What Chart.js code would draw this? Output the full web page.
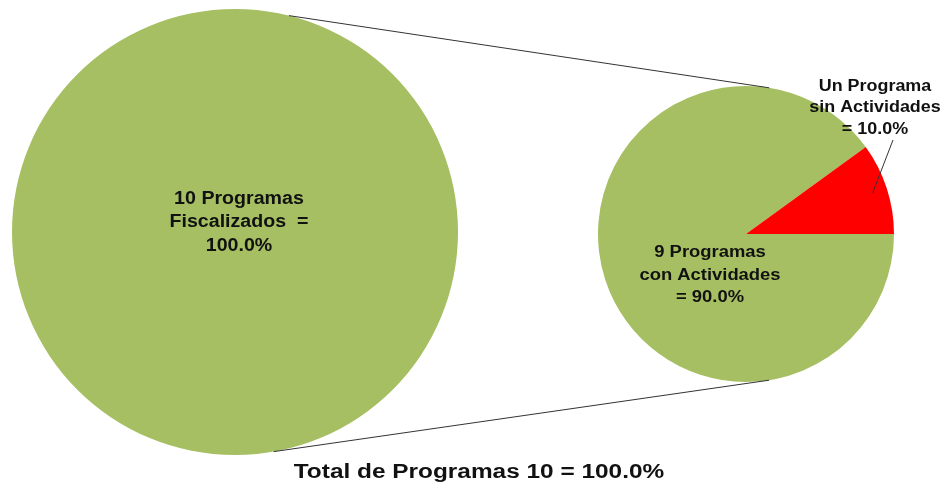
<!DOCTYPE html>
<html>
<head>
<meta charset="utf-8">
<script src="https://cdn.jsdelivr.net/npm/chart.js@4"></script>
<style>
    html, body { margin: 0; padding: 0; background: #fff; }
    #lienzo { position: relative; width: 945px; height: 491px; overflow: hidden; }
    #caja-total { position: absolute; left: 12px; top: 9px; width: 446px; height: 446px; }
    #caja-detalle { position: absolute; left: 598px; top: 86px; width: 296px; height: 296px; }
    #capa { position: absolute; left: 0; top: 0; pointer-events: none; }
</style>
</head>
<body>
<div id="lienzo">
    <div id="caja-total"><canvas id="grafico-total"></canvas></div>
    <div id="caja-detalle"><canvas id="grafico-detalle"></canvas></div>
    <canvas id="capa" width="945" height="491"></canvas>
</div>
<script>
// datos
const ROTULOS_TOTAL = ['10 Programas Fiscalizados'];
const VALORES_TOTAL = [10];
const ROTULOS_DETALLE = ['9 Programas con Actividades', 'Un Programa sin Actividades'];
const VALORES_DETALLE = [9, 1];
const TITULO = 'Total de Programas 10 = 100.0%';

const VERDE = 'rgb(166, 191, 98)';
const ROJO = '#ff0000';
const FUENTE = '"Liberation Sans", Arial, sans-serif';

const capa = document.getElementById('capa');

function porcentaje(valor, valores) {
    const total = valores.reduce((a, b) => a + b, 0);
    return (valor / total * 100).toFixed(1) + '%';
}

function opcionesPastel(rotacion) {
    return {
        responsive: true,
        maintainAspectRatio: false,
        animation: false,
        rotation: rotacion,
        layout: { padding: 0 },
        plugins: { legend: { display: false }, tooltip: { enabled: false } },
        events: [],
    };
}

const graficoTotal = new Chart(document.getElementById('grafico-total'), {
    type: 'pie',
    data: {
        labels: ROTULOS_TOTAL,
        datasets: [{ data: VALORES_TOTAL, backgroundColor: [VERDE], borderWidth: 0 }],
    },
    options: opcionesPastel(0),
});

// texto escalado en horizontal, como en la imagen original
function escribir(ctx, texto, x, y, tam, escalaX) {
    ctx.save();
    ctx.translate(x, y);
    ctx.scale(escalaX, 1);
    ctx.font = `bold ${tam}px ${FUENTE}`;
    ctx.fillStyle = '#111';
    ctx.textAlign = 'center';
    ctx.textBaseline = 'middle';
    ctx.fillText(texto, 0, 0);
    ctx.restore();
}

function centroArco(grafico) {
    const arco = grafico.getDatasetMeta(0).data[0];
    const caja = grafico.canvas.parentElement;
    return { x: caja.offsetLeft + arco.x, y: caja.offsetTop + arco.y, r: arco.outerRadius };
}

function puntoEn(c, grados, factor = 1) {
    const a = grados * Math.PI / 180;
    return { x: c.x + c.r * factor * Math.cos(a), y: c.y + c.r * factor * Math.sin(a) };
}

function dibujarCapa(graficoDetalle) {
    const ctx = capa.getContext('2d');
    ctx.clearRect(0, 0, capa.width, capa.height);

    const t = centroArco(graficoTotal);
    const d = centroArco(graficoDetalle);

    // lineas que unen los dos pasteles
    ctx.strokeStyle = '#333';
    ctx.lineWidth = 1;
    const uniones = [[-76, -81], [80, 81]];
    for (const [aT, aD] of uniones) {
        const p1 = puntoEn(t, aT);
        const p2 = puntoEn(d, aD);
        ctx.beginPath();
        ctx.moveTo(p1.x, p1.y);
        ctx.lineTo(p2.x, p2.y);
        ctx.stroke();
    }

    // linea guia de la porcion roja
    const meta = graficoDetalle.getDatasetMeta(0);
    const rojo = meta.data[1];
    const medio = (rojo.startAngle + rojo.endAngle) / 2 * 180 / Math.PI;
    const guia = puntoEn(d, medio, 0.9);
    ctx.beginPath();
    ctx.moveTo(guia.x, guia.y);
    ctx.lineTo(d.x + 147, d.y - 94);
    ctx.stroke();

    // rotulos
    const pctTotal = porcentaje(VALORES_TOTAL[0], VALORES_TOTAL);
    escribir(ctx, '10 Programas', t.x + 4, t.y - 33, 18, 1.09);
    escribir(ctx, 'Fiscalizados  =', t.x + 4, t.y - 10, 18, 1.09);
    escribir(ctx, pctTotal, t.x + 4, t.y + 14, 18, 1.09);

    const pctVerde = porcentaje(VALORES_DETALLE[0], VALORES_DETALLE);
    escribir(ctx, '9 Programas', d.x - 36, d.y + 19, 16, 1.15);
    escribir(ctx, 'con Actividades', d.x - 36, d.y + 42, 16, 1.15);
    escribir(ctx, '= ' + pctVerde, d.x - 36, d.y + 64, 16, 1.15);

    const pctRojo = porcentaje(VALORES_DETALLE[1], VALORES_DETALLE);
    escribir(ctx, 'Un Programa', d.x + 129, d.y - 147, 16, 1.12);
    escribir(ctx, 'sin Actividades', d.x + 129, d.y - 126, 16, 1.12);
    escribir(ctx, '= ' + pctRojo, d.x + 129, d.y - 104, 16, 1.12);

    escribir(ctx, TITULO, 479, 472, 20, 1.22);
}

const graficoDetalle = new Chart(document.getElementById('grafico-detalle'), {
    type: 'pie',
    data: {
        labels: ROTULOS_DETALLE,
        datasets: [{ data: VALORES_DETALLE, backgroundColor: [VERDE, ROJO], borderWidth: 0 }],
    },
    options: opcionesPastel(90),
    plugins: [{
        id: 'capaUnion',
        afterDraw: (grafico) => dibujarCapa(grafico),
    }],
});
</script>
</body>
</html>
